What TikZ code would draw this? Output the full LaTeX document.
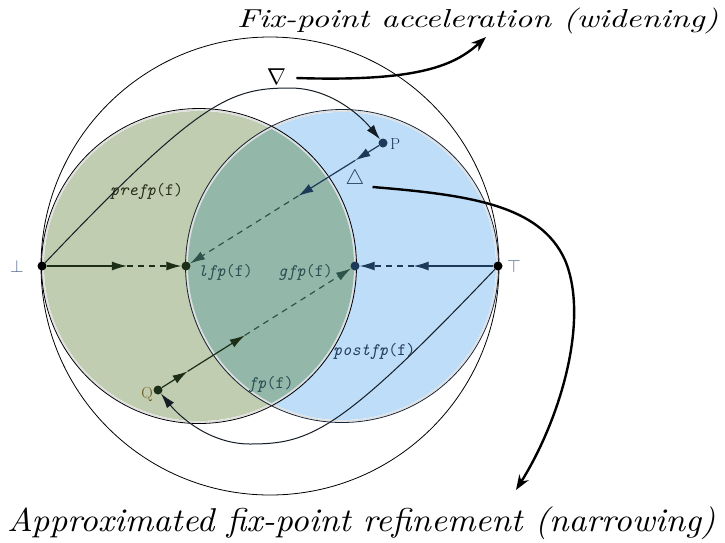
\documentclass[tikz,border=0pt]{standalone}
\usepackage{fontspec}
\usepackage{graphicx}
\usetikzlibrary{arrows.meta,calc}
\definecolor{greenfill}{RGB}{193,205,177}
\definecolor{bluefill}{RGB}{189,221,248}
\definecolor{overlapfill}{RGB}{147,184,169}
\definecolor{dkgreen}{RGB}{28,46,22}
\definecolor{dkblue}{RGB}{30,58,90}
\definecolor{dkteal}{RGB}{44,84,74}
\definecolor{lblteal}{RGB}{40,78,82}
\definecolor{lblblue}{RGB}{34,58,92}
\definecolor{lblolive}{RGB}{34,44,22}
\definecolor{qcol}{RGB}{110,88,24}
\definecolor{topbot}{RGB}{80,104,138}
\definecolor{pcol}{RGB}{32,60,96}
\definecolor{curvecol}{RGB}{20,28,36}
\definecolor{bluline}{RGB}{22,36,58}
\begin{document}
\begin{tikzpicture}[x=1pt,y=-1pt,
  dot/.style={circle,fill,inner sep=0pt,minimum size=9pt},
  conn/.style={line width=1.2pt,-{Latex[length=15pt,width=9pt]}},
  dashconn/.style={conn,dash pattern=on 6pt off 5pt},
  curveconn/.style={line width=1pt,curvecol,-{Latex[length=15pt,width=9pt]}},
  bigarrow/.style={line width=2.4pt,-{Stealth[length=15pt,width=11pt]}},
  lbl/.style={inner sep=0pt,anchor=base west,font=\fontsize{17.5}{20}\selectfont\ttfamily},
  sym/.style={inner sep=0pt},
  hand/.style={inner sep=0pt,anchor=base west},
  halo/.style={draw=gray!25,line width=1.5pt},
  outl/.style={line width=0.8pt}]
\useasboundingbox (0,0) rectangle (725,542);
\fill[white] (0,0) rectangle (725,542);
\coordinate (G) at (199,266);
\coordinate (B) at (342,266);
\coordinate (O) at (270,266);
% outer circle
\draw[outl] (O) circle[radius=229pt];
% fills
\fill[greenfill] (G) circle[radius=155pt];
\fill[bluefill] (B) circle[radius=154pt];
\begin{scope}
  \clip (G) circle[radius=155pt];
  \fill[overlapfill] (B) circle[radius=154pt];
\end{scope}
\draw[halo] (G) circle[radius=156pt];
\draw[halo] (B) circle[radius=155pt];
\draw[outl,black] (G) circle[radius=157.5pt];
\draw[outl,bluline] (B) circle[radius=156.5pt];
% points
\node[dot] (bot) at (42,266) {};
\node[dot,dkgreen] (lfp) at (186,266) {};
\node[dot,dkblue] (gfp) at (355,266) {};
\node[dot] (top) at (498,266) {};
\node[dot,dkblue] (P) at (383,143) {};
\node[dot,dkgreen] (Q) at (158,390) {};
% labels
\node[sym,anchor=base,text=topbot] (botl) at (17,272) {\scalebox{1.75}{$\bot$}};
\node[sym,anchor=base,text=topbot] (topl) at (514,272) {\scalebox{1.75}{$\top$}};
\node[sym,anchor=base west,text=pcol,font=\fontsize{16}{18}\selectfont] (Pl) at (390,149) {P};
\node[sym,anchor=base east,text=qcol,font=\fontsize{16}{18}\selectfont] (Ql) at (153,398) {Q};
\node[lbl,text=lblolive] (prefpl) at (110,195) {\itshape prefp\upshape(f)};
\node[lbl,text=lblteal] (lfpl) at (198,276) {\itshape lfp\upshape(f)};
\node[lbl,text=lblteal] (gfpl) at (278,276) {\itshape gfp\upshape(f)};
\node[lbl,text=lblblue] (postl) at (333,355) {\itshape postfp\upshape(f)};
\node[lbl,text=lblteal] (fpl) at (248,388) {\itshape fp\upshape(f)};
\node[sym] (nabla) at (276.5,77) {\scalebox{2.3}{$\nabla$}};
\node[sym,text=dkblue] (delta) at (355,179) {\scalebox{2.1}{$\triangle$}};
\node[hand] (widen) at (237,27) {\resizebox*{481pt}{26pt}{\itshape Fix-point acceleration (widening)}};
\node[hand] (narrow) at (7,531) {\resizebox*{708pt}{33pt}{\itshape Approximated fix-point refinement (narrowing)}};
% intermediate coordinates
\coordinate (bm) at ($(bot)!0.59!(lfp)$);
\coordinate (tm) at ($(top)!0.59!(gfp)$);
\coordinate (p1) at ($(P)!0.14!(lfp)$);
\coordinate (p2) at ($(P)!0.43!(lfp)$);
\coordinate (q1) at ($(Q)!0.15!(gfp)$);
\coordinate (q2) at ($(Q)!0.44!(gfp)$);
\coordinate (wend) at (486,37);
\coordinate (nend) at (516,490);
% connectors
\draw[conn,dkgreen] (bot) -- (bm);
\draw[dashconn,dkgreen] (bm) -- (lfp);
\draw[conn,dkblue] (top) -- (tm);
\draw[dashconn,dkblue] (tm) -- (gfp);
\draw[conn,dkblue] (P) -- (p1);
\draw[conn,dkblue] (p1) -- (p2);
\draw[dashconn,dkteal] (p2) -- (lfp);
\draw[conn,dkgreen] (Q) -- (q1);
\draw[conn,dkgreen] (q1) -- (q2);
\draw[dashconn,dkteal] (q2) -- (gfp);
\draw[curveconn] (bot) .. controls (200,100) and (230,88) .. (290,88) .. controls (330,88) and (360,115) .. (P);
\draw[curveconn] (top) .. controls (340,432) and (310,444) .. (250,444) .. controls (210,444) and (180,417) .. (Q);
\draw[bigarrow] ([xshift=10pt,yshift=-1pt]nabla.east) .. controls (420,82) and (455,65) .. (wend);
\draw[bigarrow] ([xshift=8pt,yshift=-8pt]delta.east) .. controls (470,195) and (540,205) .. (565,260) .. controls (590,320) and (560,420) .. (nend);
\end{tikzpicture}
\end{document}
